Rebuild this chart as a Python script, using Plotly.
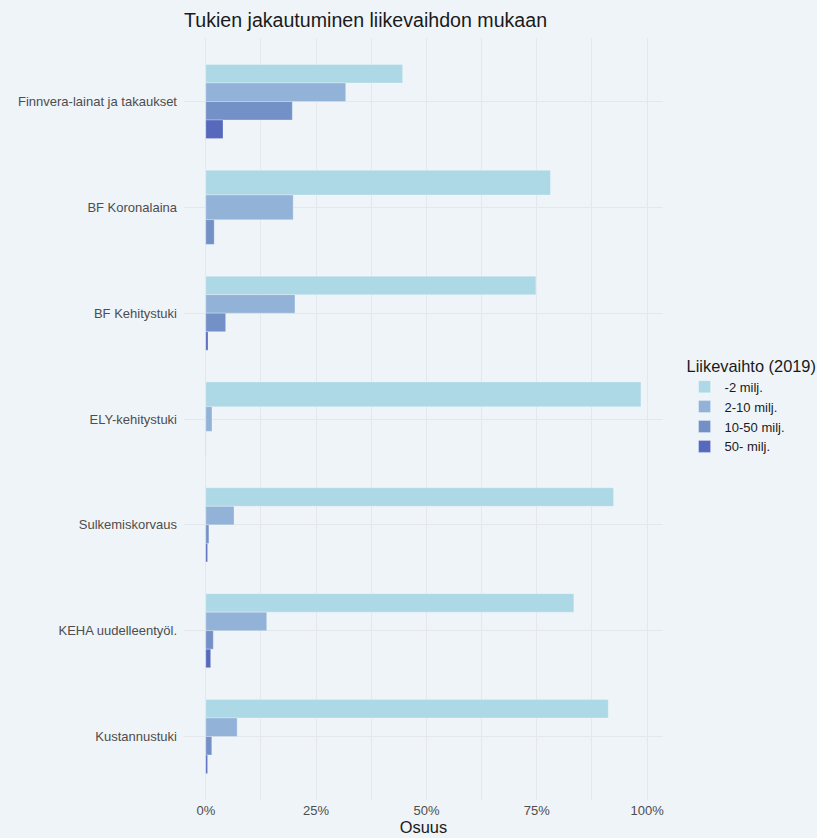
import plotly.graph_objects as go

categories = ["Finnvera-lainat ja takaukset", "BF Koronalaina", "BF Kehitystuki",
              "ELY-kehitystuki", "Sulkemiskorvaus", "KEHA uudelleentyöl.", "Kustannustuki"]
series = ["-2 milj.", "2-10 milj.", "10-50 milj.", "50- milj."]
v_lt2 = [0.446, 0.781, 0.748, 0.986, 0.924, 0.834, 0.912]
v_2_10 = [0.317, 0.198, 0.202, 0.014, 0.064, 0.138, 0.071]
v_10_50 = [0.196, 0.019, 0.045, 0.0005, 0.007, 0.017, 0.0135]
v_50 = [0.039, None, 0.005, None, 0.004, 0.011, 0.004]
values = [v_lt2, v_2_10, v_10_50, v_50]
colors = ["#ADD8E6", "#92B3D7", "#7391C7", "#5669BC"]

dodge = 0.7
# compute per-bar width and offset (ggplot-style dodge, missing groups removed)
widths = [[None] * len(categories) for _ in series]
offsets = [[None] * len(categories) for _ in series]
for ci in range(len(categories)):
    present = [si for si in range(len(series)) if values[si][ci] is not None]
    n = len(present)
    w = dodge / n
    for k, si in enumerate(present):
        widths[si][ci] = w
        offsets[si][ci] = -dodge / 2 + k * w

fig = go.Figure()
for si, name in enumerate(series):
    xs, ys, ws, os_ = [], [], [], []
    for ci, c in enumerate(categories):
        if values[si][ci] is None:
            continue
        xs.append(values[si][ci]); ys.append(c)
        ws.append(widths[si][ci]); os_.append(offsets[si][ci])
    fig.add_trace(go.Bar(
        x=xs, y=ys, orientation="h", name=name, width=ws, offset=os_,
        marker=dict(color=colors[si], line=dict(color="rgba(255,255,255,0.35)", width=0.8)),
    ))

bg = "#EFF4F9"
grid = "#E4E7EB"
fig.update_layout(
    width=817, height=838,
    barmode="overlay",
    paper_bgcolor=bg, plot_bgcolor=bg,
    font=dict(family="Liberation Sans, Arial, sans-serif", size=13, color="#4D4D4D"),
    margin=dict(l=184, r=154, t=38, b=38, autoexpand=False),
    title=dict(text="Tukien jakautuminen liikevaihdon mukaan", x=0, xref="paper", xanchor="left",
               y=1 - 20 / 838, yref="container", yanchor="middle",
               font=dict(size=19.6, color="#1A1A1A")),
    legend=dict(title=dict(text="Liikevaihto (2019)", font=dict(size=16.4, color="#1A1A1A")),
                x=1.045, xanchor="left", y=0.59, yanchor="top",
                font=dict(size=13, color="#1A1A1A"), bgcolor="rgba(0,0,0,0)",
                traceorder="normal", tracegroupgap=0),
    xaxis=dict(range=[-0.0494, 1.036], tickvals=[0, 0.25, 0.5, 0.75, 1.0],
               ticktext=["0%", "25%", "50%", "75%", "100%"],
               showgrid=True, gridcolor=grid, gridwidth=1.2, zeroline=False,
               minor=dict(tickvals=[0.125, 0.375, 0.625, 0.875], showgrid=True,
                          gridcolor=grid, gridwidth=0.8),
               ticks="", ticklabelstandoff=1, tickfont=dict(size=13, color="#4D4D4D"),
               title=dict(text="Osuus", font=dict(size=16.4, color="#1A1A1A"), standoff=0),
               automargin=False),
    yaxis=dict(categoryorder="array", categoryarray=categories, range=[6.6, -0.6],
               showgrid=True, gridcolor=grid, gridwidth=1.2, zeroline=False,
               ticks="", ticklabelstandoff=6, tickfont=dict(size=13, color="#4D4D4D"),
               automargin=False),
)

fig.write_html("out.html", config={"displayModeBar": False},
               post_script="document.body.style.margin='0';document.body.style.overflow='hidden';")
